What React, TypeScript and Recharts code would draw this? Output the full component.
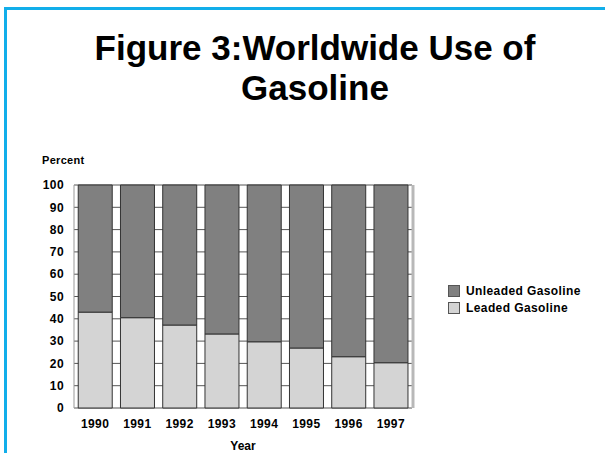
import React from 'react';
import {
  BarChart, Bar, XAxis, YAxis, CartesianGrid
} from 'recharts';

const years = ['1990', '1991', '1992', '1993', '1994', '1995', '1996', '1997'];
const leaded = [43, 40.5, 37.2, 33.2, 29.7, 26.9, 23, 20.3];
const unleaded = [57, 59.5, 62.8, 66.8, 70.3, 73.1, 77, 79.7];
const yTicks = [0, 10, 20, 30, 40, 50, 60, 70, 80, 90, 100];

const font = '"Liberation Sans", Arial, sans-serif';

const data = years.map((year, i) => ({
  year,
  leaded: leaded[i],
  unleaded: unleaded[i],
}));

const legendItems = [
  { name: 'Unleaded Gasoline', color: '#808080' },
  { name: 'Leaded Gasoline', color: '#d4d4d4' },
];

const LegendBox = () => (
  <div style={{
    position: 'absolute', left: 448, top: 282, fontFamily: font,
    fontWeight: 'bold', fontSize: 12, letterSpacing: 0.4
  }}>
    {legendItems.map((it) => (
      <div key={it.name} style={{ display: 'flex', alignItems: 'center', height: 17 }}>
        <span
          style={{
            width: 10, height: 10, background: it.color,
            border: '1px solid #555', marginRight: 6, display: 'inline-block'
          }}
        />
        <span style={{ color: '#000' }}>{it.name}</span>
      </div>
    ))}
  </div>
);

export default function App() {
  return (
    <div style={{ position: 'absolute', left: 0, top: 0, width: 605, height: 453, background: '#fff', overflow: 'hidden' }}>
      {/* blue frame */}
      <div style={{
        position: 'absolute', left: 4, top: 7, width: 620, height: 460,
        borderLeft: '3px solid #12aeea', borderTop: '3px solid #12aeea'
      }} />
      <div style={{
        position: 'absolute', left: 0, width: 630, top: 28, textAlign: 'center',
        fontFamily: font, fontWeight: 'bold', fontSize: 35, lineHeight: '40px', color: '#000'
      }}>
        Figure 3:Worldwide Use of<br />Gasoline
      </div>
      <div style={{
        position: 'absolute', left: 42, top: 154, fontFamily: font,
        fontWeight: 'bold', fontSize: 11, letterSpacing: 0.3, color: '#000'
      }}>
        Percent
      </div>
      <BarChart
        width={605}
        height={453}
        data={data}
        margin={{ top: 185, right: 193, left: 0, bottom: 0 }}
        barCategoryGap="10%"
        style={{ position: 'absolute', left: 0, top: 0 }}
      >
        <CartesianGrid horizontal={true} vertical={false} stroke="#555" />
        <CartesianGrid horizontal={false} vertical={true} verticalPoints={[413]} stroke="#b8b8b8" strokeWidth={3} />
        <XAxis
          dataKey="year"
          height={45}
          tickLine={false}
          axisLine={false}
          tickSize={0}
          tickMargin={11}
          tick={{ fontSize: 12, fontWeight: 'bold', fill: '#000', fontFamily: font, letterSpacing: 0.4 }}
          label={{ value: 'Year', position: 'insideBottom', offset: 3, fontSize: 12, fontWeight: 'bold', fill: '#000', fontFamily: font }}
        />
        <YAxis
          width={74}
          domain={[0, 100]}
          ticks={yTicks}
          interval={0}
          tickLine={false}
          tickSize={0}
          tickMargin={10}
          axisLine={{ stroke: '#999' }}
          tick={{ fontSize: 12, fontWeight: 'bold', fill: '#000', fontFamily: font, letterSpacing: 0.4 }}
        />
        <Bar dataKey="leaded" stackId="a" fill="#d4d4d4" stroke="#333" strokeWidth={1} isAnimationActive={false} />
        <Bar dataKey="unleaded" stackId="a" fill="#808080" stroke="#333" strokeWidth={1} isAnimationActive={false} />
      </BarChart>
      <LegendBox />
    </div>
  );
}
